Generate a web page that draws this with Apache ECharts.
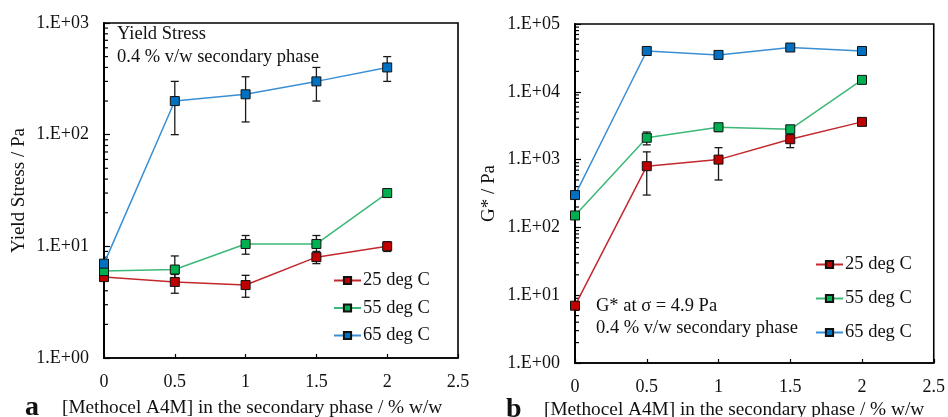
<!DOCTYPE html>
<html><head><meta charset="utf-8">
<script src="https://cdn.jsdelivr.net/npm/echarts@6/dist/echarts.min.js"></script>
<style>html,body{margin:0;padding:0;background:#fff}#c{width:948px;height:417px}</style>
</head><body><div id="c"></div>
<script>
const xVals = [0, 0.5, 1, 1.5, 2];
const seriesNames = ['25 deg C', '55 deg C', '65 deg C'];
// Panel a: Yield stress (Pa)
const ys25 = [5.3, 4.8, 4.5, 8, 10];
const ys25Lo = [5.0, 3.8, 3.5, 7.0, 9.0];
const ys25Hi = [5.6, 5.6, 5.5, 9.0, 11];
const ys55 = [6, 6.2, 10.5, 10.5, 30];
const ys55Lo = [5.7, 5.0, 8.5, 8.5, 29];
const ys55Hi = [6.3, 8.2, 12.5, 12.5, 31];
const ys65 = [7, 200, 230, 300, 400];
const ys65Lo = [6.5, 100, 130, 200, 300];
const ys65Hi = [7.5, 300, 330, 400, 500];
// Panel b: G* (Pa)
const g25 = [7, 800, 1000, 2000, 3600];
const g25Lo = [6.5, 300, 500, 1500, 3300];
const g25Hi = [7.5, 1300, 1500, 2400, 3900];
const g55 = [150, 2100, 3000, 2800, 15000];
const g55Lo = [140, 1650, 2600, 2500, 14000];
const g55Hi = [160, 2550, 3400, 3100, 16000];
const g65 = [300, 40000, 35000, 45000, 40000];
const g65Lo = [280, 37000, 32000, 42000, 37000];
const g65Hi = [320, 43000, 38000, 48000, 43000];

const FONT = 'Liberation Serif';
const fills = ['#c00000', '#00b050', '#0070c0'];
const lines = ['#c3282d', '#3cb878', '#3a8fd4'];

function pts(v) { return xVals.map((x, i) => [x, v[i]]); }
function errs(lo, hi) { return xVals.map((x, i) => [x, lo[i], hi[i]]); }
function minorTickValues(maxExp) {
  const out = [];
  for (let e = 0; e < maxExp; e++) for (let m = 2; m <= 9; m++) out.push([0, m * Math.pow(10, e)]);
  return out;
}
function fmt(v) {
  const e = Math.round(Math.log10(v));
  return '1.E' + (e >= 0 ? '+' : '-') + String(Math.abs(e)).padStart(2, '0');
}

const errRender = function (params, api) {
  const x = api.value(0), lo = api.value(1), hi = api.value(2);
  const a = api.coord([x, lo]), b = api.coord([x, hi]);
  const w = 4;
  const st = { stroke: '#1a1a1a', lineWidth: 1.3 };
  return { type: 'group', children: [
    { type: 'line', shape: { x1: a[0], y1: a[1], x2: b[0], y2: b[1] }, style: st },
    { type: 'line', shape: { x1: a[0] - w, y1: a[1], x2: a[0] + w, y2: a[1] }, style: st },
    { type: 'line', shape: { x1: b[0] - w, y1: b[1], x2: b[0] + w, y2: b[1] }, style: st }
  ]};
};
const minorRender = function (params, api) {
  const p = api.coord([api.value(0), api.value(1)]);
  return { type: 'line', shape: { x1: p[0], y1: p[1], x2: p[0] + 4, y2: p[1] }, style: { stroke: '#000', lineWidth: 1.2 } };
};

const grids = [
  { left: 104, top: 23, width: 354, height: 335, show: true, borderColor: '#000', borderWidth: 1.6, backgroundColor: 'transparent' },
  { left: 575, top: 24, width: 360, height: 339, show: true, borderColor: '#000', borderWidth: 1.6, backgroundColor: 'transparent' }
];
function xAx(g) {
  return { type: 'value', gridIndex: g, min: 0, max: 2.5, interval: 0.5,
    axisLine: { lineStyle: { color: '#000', width: 1.6 } },
    axisTick: { inside: true, length: 4, lineStyle: { color: '#000', width: 1.2 } },
    axisLabel: { color: '#111', fontFamily: FONT, fontSize: 18, margin: 15 },
    splitLine: { show: false } };
}
function yAx(g, max, name, gap) {
  return { type: 'log', logBase: 10, gridIndex: g, min: 1, max: max,
    name: name, nameLocation: 'middle', nameGap: gap,
    nameTextStyle: { color: '#111', fontFamily: FONT, fontSize: 19 },
    axisLine: { show: true, lineStyle: { color: '#000', width: 2 } },
    axisTick: { show: true, inside: true, length: 6, lineStyle: { color: '#000', width: 1.2 } },
    axisLabel: { color: '#111', fontFamily: FONT, fontSize: 18, margin: 15, formatter: fmt },
    splitLine: { show: false } };
}

const series = [];
const panelA = [[ys25, ys25Lo, ys25Hi], [ys55, ys55Lo, ys55Hi], [ys65, ys65Lo, ys65Hi]];
const panelB = [[g25, g25Lo, g25Hi], [g55, g55Lo, g55Hi], [g65, g65Lo, g65Hi]];
[panelA, panelB].forEach((panel, g) => {
  series.push({ type: 'custom', xAxisIndex: g, yAxisIndex: g, renderItem: minorRender, silent: true, clip: false,
    encode: { x: 0, y: 1 }, data: minorTickValues(g === 0 ? 3 : 5), z: 3 });
  panel.forEach((d, k) => {
    series.push({ type: 'custom', xAxisIndex: g, yAxisIndex: g, renderItem: errRender, clip: false,
      encode: { x: 0, y: [1, 2] }, data: errs(d[1], d[2]), z: 4, silent: true });
  });
  panel.forEach((d, k) => {
    series.push({ type: 'line', name: seriesNames[k], xAxisIndex: g, yAxisIndex: g, data: pts(d[0]),
      symbol: 'rect', symbolSize: 9, showAllSymbol: true,
      itemStyle: { color: fills[k], borderColor: '#111', borderWidth: 1 },
      lineStyle: { color: lines[k], width: 1.5 }, z: 5, animation: false });
  });
});

function legend(left, top, gap) {
  return { left: left, top: top, orient: 'vertical', itemWidth: 27, itemHeight: 9, itemGap: gap,
    data: seriesNames, textStyle: { color: '#111', fontFamily: FONT, fontSize: 18.5, padding: [0, 0, 0, -3] } };
}
function txt(x, y, s, size, bold) {
  return { type: 'text', left: x, top: y, style: { text: s, fill: '#111', font: (bold ? 'bold ' : '') + size + 'px "' + FONT + '"' } };
}

const chart = echarts.init(document.getElementById('c'), null, { renderer: 'canvas' });
chart.setOption({
  animation: false,
  backgroundColor: '#fff',
  grid: grids,
  xAxis: [xAx(0), xAx(1)],
  yAxis: [yAx(0, 1000, 'Yield Stress / Pa', 75), yAx(1, 100000, 'G* / Pa', 76)],
  legend: [legend(328, 266, 8.5), legend(810, 250, 15)],
  series: series,
  graphic: [
    txt(117, 25, 'Yield Stress', 18.5),
    txt(117, 48, '0.4 % v/w secondary phase', 18.5),
    txt(596, 297, 'G* at σ = 4.9 Pa', 18.5),
    txt(596, 319, '0.4 % v/w secondary phase', 18.5),
    txt(62, 398, '[Methocel A4M] in the secondary phase / % w/w', 19.3),
    txt(544, 400, '[Methocel A4M] in the secondary phase / % w/w', 19.3),
    txt(25, 394, 'a', 28, true),
    txt(506, 396, 'b', 28, true)
  ]
});
</script></body></html>
